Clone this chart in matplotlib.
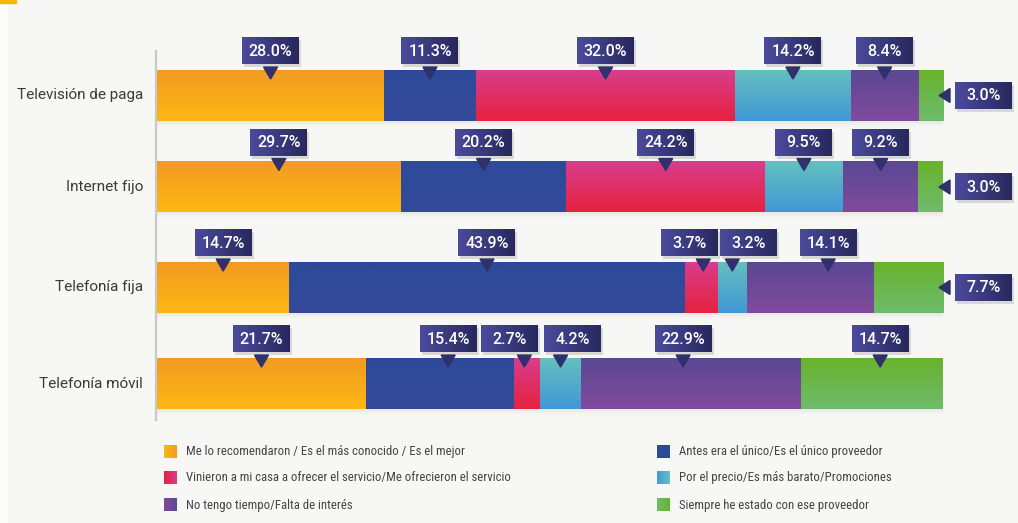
import numpy as np
import matplotlib.pyplot as plt
from matplotlib.patches import Rectangle, Polygon
from matplotlib.colors import to_rgb

plt.rcParams['font.family'] = ['Roboto', 'DejaVu Sans']
NARROW = ['Liberation Sans Narrow', 'Noto Sans Condensed', 'Roboto Condensed', 'Roboto']

categories = ["Televisión de paga", "Internet fijo", "Telefonía fija", "Telefonía móvil"]
reasons = [
    "Me lo recomendaron / Es el más conocido / Es el mejor",
    "Antes era el único/Es el único proveedor",
    "Vinieron a mi casa a ofrecer el servicio/Me ofrecieron el servicio",
    "Por el precio/Es más barato/Promociones",
    "No tengo tiempo/Falta de interés",
    "Siempre he estado con ese proveedor",
]
recomendado = [28.0, 29.7, 14.7, 21.7]
unico = [11.3, 20.2, 43.9, 15.4]
visita = [32.0, 24.2, 3.7, 2.7]
precio = [14.2, 9.5, 3.2, 4.2]
interes = [8.4, 9.2, 14.1, 22.9]
siempre = [3.0, 3.0, 7.7, 14.7]

series = [recomendado, unico, visita, precio, interes, siempre]
# (top, bottom) gradient colours per reason
grads = [
    ('#f39a23', '#fbb813'),
    ('#2d4a9a', '#344a99'),
    ('#d83d8c', '#e6223f'),
    ('#64c0bf', '#4198d6'),
    ('#5b4893', '#804b9b'),
    ('#68b32c', '#6fbb6c'),
]
# legend swatches run left -> right
swatch = [
    ('#fbb813', '#f39a23'),
    ('#2d4a9a', '#2d4a9a'),
    ('#e6223f', '#d83d8c'),
    ('#4198d6', '#64c0bf'),
    ('#804b9b', '#5b4893'),
    ('#6fbb6c', '#68b32c'),
]
# small horizontal nudges (px) for crowded labels: (row, series): (box_dx, pointer_dx)
nudges = {(2, 2): (-12, 2), (2, 3): (16, 0), (2, 4): (18, 18),
          (3, 1): (8, 8), (3, 2): (-18, -3), (3, 3): (12, 0), (3, 4): (-8, -8),
          (3, 5): (8, 8)}

W, H = 1018, 523
BG = '#f7f7f5'


def grad_img(c0, c1, n=64, vertical=True):
    a = np.array(to_rgb(c0))
    b = np.array(to_rgb(c1))
    t = np.linspace(0, 1, n)[:, None]
    g = a + (b - a) * t
    if vertical:
        return g[:, None, :]
    return g[None, :, :]


fig = plt.figure(figsize=(W / 100, H / 100), dpi=100, facecolor=BG)

ax = fig.add_axes([157 / W, 1 - 420 / H, (943 - 157) / W, (420 - 51) / H])
ax.set_facecolor('none')
ax.axis('off')

ov = fig.add_axes([0, 0, 1, 1], zorder=5)
ov.set_xlim(0, W)
ov.set_ylim(H, 0)
ov.axis('off')
ov.patch.set_alpha(0)

# page decorations
ov.add_patch(Rectangle((0, 0), 7, H, color='#fcfcfb', zorder=0))
ov.add_patch(Rectangle((0, 0), 16, 2.5, color='#f5b800', zorder=0))

ypos = np.array([0, 0.953, 2, 3])
bh = 0.53
data = np.array(series)
shares = data / data.sum(axis=0) * 100
lefts = np.vstack([np.zeros(len(categories)), np.cumsum(shares, axis=0)[:-1]])

for i in range(len(series)):
    bars = ax.barh(ypos, shares[i], left=lefts[i], height=bh, color='none')
    for p in bars:
        x0, y0 = p.get_x(), p.get_y()
        ax.imshow(grad_img(*grads[i]), extent=(x0, x0 + p.get_width(), y0 + bh, y0),
                  aspect='auto', interpolation='bilinear', zorder=2)

ax.set_xlim(0, 100)
ax.set_ylim(3.3802, -0.4635)

to_px = lambda x, y: ov.transData.inverted().transform(ax.transData.transform((x, y)))

# axis line
top_px = to_px(0, -0.4635)
bot_px = to_px(0, 3.3802)
ov.plot([top_px[0] - 1, bot_px[0] - 1], [top_px[1], bot_px[1]], color='#c9c9c9', lw=1.6, zorder=1)

# soft shadow under each bar
for y in ypos:
    xl, yb = to_px(0, y + bh / 2)
    xr, _ = to_px(100, y + bh / 2)
    for k, a in enumerate([0.05, 0.035, 0.02]):
        ov.add_patch(Rectangle((xl, yb), xr - xl, 2 + 2 * k, color='#808080', alpha=a,
                               lw=0, zorder=1))

for y, cat in zip(ypos, categories):
    _, cy = to_px(0, y)
    ov.text(143, cy, cat, ha='right', va='center', fontsize=11, color='#3a3a3a')

BW, BHt = 57, 27


def value_box(cx, cy, txt):
    ov.add_patch(Rectangle((cx - BW / 2 + 2, cy - BHt / 2 + 3), BW, BHt, color='#000000',
                           alpha=0.12, lw=0, zorder=6))
    ov.imshow(grad_img('#4b4b9c', '#28285e', vertical=False),
              extent=(cx - BW / 2, cx + BW / 2, cy + BHt / 2, cy - BHt / 2),
              aspect='auto', interpolation='bilinear', zorder=7)
    ov.text(cx, cy + 0.5, txt, ha='center', va='center', color='white', fontsize=11.5,
            fontweight='medium', zorder=8)


for r, y in enumerate(ypos):
    _, bar_top = to_px(0, y - bh / 2)
    _, cy = to_px(0, y)
    for i in range(len(series)):
        seg_l = lefts[i][r]
        seg_w = shares[i][r]
        txt = f"{series[i][r]:.1f}%"
        if i == len(series) - 1 and seg_w < 10:
            tip_x, _ = to_px(100, y)
            tip_x -= 4
            ov.add_patch(Polygon([(tip_x + 11, cy - 7), (tip_x + 11, cy + 7), (tip_x, cy)],
                                 closed=True, color='#30306c', zorder=7))
            value_box(983.5, cy, txt)
            continue
        px, _ = to_px(seg_l + seg_w / 2, y)
        bdx, pdx = nudges.get((r, i), (0, 0))
        tx = px + pdx
        ov.add_patch(Polygon([(tx - 7, bar_top - 3), (tx + 7, bar_top - 3), (tx, bar_top + 9)],
                             closed=True, color='#30306c', zorder=7))
        value_box(px + bdx, bar_top - 6 - BHt / 2, txt)

# legend
leg_x = [164, 657]
leg_y = [451.5, 478, 505]
for k, lab in enumerate(reasons):
    col, row = k % 2, k // 2
    x, y = leg_x[col], leg_y[row]
    ov.imshow(grad_img(*swatch[k], vertical=False), extent=(x, x + 13, y + 6.5, y - 6.5),
              aspect='auto', interpolation='bilinear', zorder=3)
    ov.text(x + 22, y, lab, ha='left', va='center', fontsize=9.2, color='#444444',
            family=NARROW, fontstretch='condensed')

ov.set_xlim(0, W)
ov.set_ylim(H, 0)

fig.savefig('out.png', dpi=100, facecolor=BG)
